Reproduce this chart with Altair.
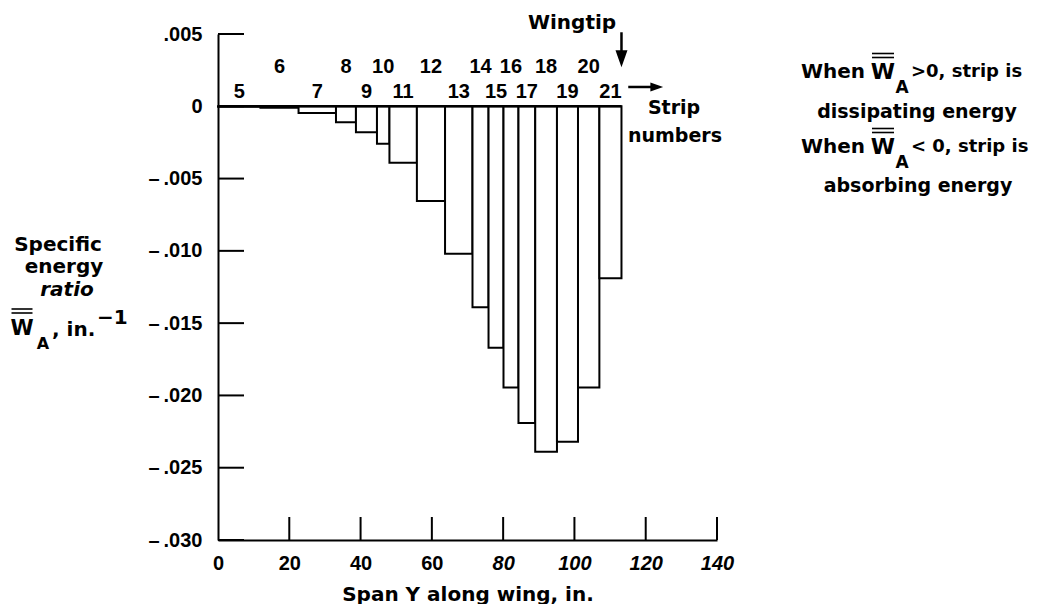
import altair as alt
import pandas as pd

# ---- data ----
strips = list(range(5, 22))
edges = [0, 11.9, 22.6, 33.1, 38.7, 44.6, 48.1, 55.8, 63.7, 71.4, 75.9,
         80.1, 84.3, 89.0, 95.1, 101.0, 107.0, 113.2]
values = [-0.00003, -0.0001, -0.00046, -0.0011, -0.0018, -0.0026, -0.0039,
          -0.00655, -0.0102, -0.0139, -0.0167, -0.01945, -0.0219, -0.0239,
          -0.0232, -0.01945, -0.0119]
x_ticks = [0, 20, 40, 60, 80, 100, 120, 140]
y_ticks = [0.005, 0, -0.005, -0.010, -0.015, -0.020, -0.025, -0.030]

NUM_FONT = "Liberation Sans"
WORD_FONT = "DejaVu Sans"
W, H = 499, 506
PAD = {"left": 210, "top": 26, "right": 318, "bottom": 64}
OX, OY = 8 + PAD["left"], 8 + PAD["top"]

xs = alt.Scale(domain=[0, 140], nice=False, zero=False)
ys = alt.Scale(domain=[-0.030, 0.005], nice=False, zero=False)

y_label_expr = ("datum.value == 0 ? '0' : (datum.value < 0 ? '\u2013\u2009' : '') + "
                "replace(format(abs(datum.value), '.3f'), '0.', '.')")

xax = alt.Axis(
    values=x_ticks, ticks=False, tickSize=0, grid=False, domain=True,
    domainColor="black", domainWidth=2, labelFlush=False,
    labelFont=NUM_FONT, labelFontSize=20, labelFontWeight="bold",
    labelColor="black", labelPadding=13,
    labelFontStyle={"condition": {"test": "datum.value >= 80", "value": "italic"},
                    "value": "normal"},
    title="Span Y along wing, in.", titleFont=WORD_FONT, titleFontSize=20,
    titleFontWeight="bold", titleColor="black", titlePadding=11)
yax = alt.Axis(
    values=y_ticks, ticks=False, tickSize=0, grid=False, domain=True,
    domainColor="black", domainWidth=2, labelExpr=y_label_expr,
    labelFont=NUM_FONT, labelFontSize=20, labelFontWeight="bold",
    labelColor="black", labelPadding=16, title=None)


def X(f):
    return alt.X(f, scale=xs, axis=xax)


def Y(f):
    return alt.Y(f, scale=ys, axis=yax)


bars = pd.DataFrame({
    "strip": strips,
    "x0": edges[:-1],
    "x1": edges[1:],
    "v": values,
})
bars["zero"] = 0.0
bars["mid"] = (bars["x0"] + bars["x1"]) / 2
bars["row"] = [0.00097 if s % 2 else 0.0027 for s in strips]
bars["lab"] = [str(s) for s in strips]

one = pd.DataFrame({"k": [0]})

bar_layer = alt.Chart(bars).mark_rect(fill="white", stroke="black", strokeWidth=2).encode(
    x=X("x0:Q"), x2="x1:Q", y=Y("v:Q"), y2="zero:Q")

zero_line = alt.Chart(one).mark_rule(color="black", strokeWidth=2.5).encode(
    x=X("a:Q"), x2="b:Q", y=Y("c:Q"),
).transform_calculate(a="0", b=str(edges[-1]), c="0")

ytick_layer = alt.Chart(pd.DataFrame({"t": y_ticks})).mark_rule(
    color="black", strokeWidth=2).encode(
    y=Y("t:Q"), x=alt.value(0), x2=alt.value(26))

xtick_layer = alt.Chart(pd.DataFrame({"t": x_ticks[1:]})).mark_rule(
    color="black", strokeWidth=2).encode(
    x=X("t:Q"), y=alt.value(H), y2=alt.value(H - 23))

strip_labels = alt.Chart(bars).mark_text(
    font=NUM_FONT, fontSize=20, fontWeight="bold", color="black",
    baseline="middle", align="center").encode(
    x=X("mid:Q"), y=Y("row:Q"), text="lab:N")

# arrows (annotation, data coordinates)
arrows = pd.DataFrame({
    "x0": [edges[-1], 115.1],
    "x1": [edges[-1], 123.0],
    "y0": [0.00512, 0.001335],
    "y1": [0.0033, 0.001335],
})
arrow_shafts = alt.Chart(arrows).mark_rule(color="black", strokeWidth=2.5).encode(
    x=X("x0:Q"), x2="x1:Q", y=Y("y0:Q"), y2="y1:Q")
head_down = alt.Chart(one).mark_point(
    shape="M-0.6,-0.85L0.6,-0.85L0,0.85Z", size=400, filled=True,
    color="black", opacity=1).encode(
    x=X("a:Q"), y=Y("b:Q")
).transform_calculate(a=str(edges[-1]), b="0.00328")
head_right = alt.Chart(one).mark_point(
    shape="M-0.85,-0.6L0.85,0L-0.85,0.6Z", size=225, filled=True,
    color="black", opacity=1).encode(
    x=X("a:Q"), y=Y("b:Q")
).transform_calculate(a="123.1", b="0.001335")


def label(txt, px, py, size=20, font=WORD_FONT, align="center", style="normal"):
    return alt.Chart(one).mark_text(
        text=txt, font=font, fontSize=size, fontWeight="bold", fontStyle=style,
        align=align, baseline="middle", color="black").encode(
        x=alt.value(px - OX), y=alt.value(py - OY))


def bar_line(x0, x1, py):
    return alt.Chart(one).mark_rule(color="black", strokeWidth=1.6).encode(
        x=alt.value(x0 - OX), x2=alt.value(x1 - OX), y=alt.value(py - OY))


def wbar(px, py, size, gaps):
    """W with stacked overlines drawn above it."""
    half = 0.5 * size
    out = [label("W", px, py, size=size)]
    for g in gaps:
        out.append(bar_line(px - half, px + half, py - g))
    return out


def note_line(word_y, rel, rest):
    return [
        label("When", 865, word_y, size=20, align="right"),
        *wbar(883, word_y, 22, [14.5, 18.5]),
        label("A", 902, word_y + 16, size=17),
        label(rest, 911, word_y, size=18, align="left"),
    ]


texts = [
    label("Wingtip", 572, 23),
    label("Strip", 674, 108, size=19),
    label("numbers", 675, 136, size=19),
    # y title
    label("Specific", 58, 245),
    label("energy", 64, 267),
    label("ratio", 67, 290, style="italic"),
    *wbar(22, 329, 21, [16, 20]),
    label("A", 43, 344, size=16),
    label(", in.", 52, 330, align="left"),
    label("\u22121", 97, 318, align="left"),
    # note on the right
    *note_line(72, ">", ">0, strip is"),
    label("dissipating energy", 917, 112, size=19),
    *note_line(147, "<", "< 0, strip is"),
    label("absorbing energy", 918, 186, size=19),
]

chart = alt.layer(
    bar_layer, zero_line, ytick_layer, xtick_layer, strip_labels,
    arrow_shafts, head_down, head_right, *texts
).properties(
    width=W, height=H, padding=PAD,
    autosize=alt.AutoSizeParams(type="none"),
    background="white",
).configure_view(stroke=None)

chart.save("out.html", embed_options={"renderer": "svg", "actions": False})
